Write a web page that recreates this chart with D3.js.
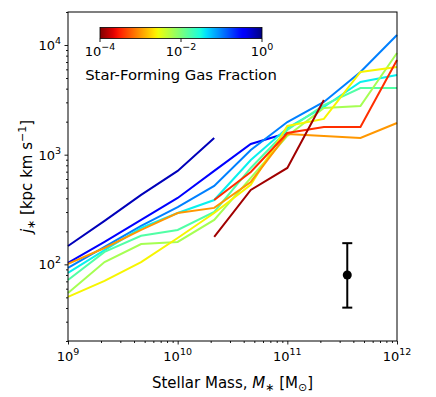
<!DOCTYPE html>
<html><head><meta charset="utf-8">
<script src="https://cdn.jsdelivr.net/npm/d3@7"></script>
<style>
body{margin:0;background:#fff;}
text{font-family:"DejaVu Sans",sans-serif;fill:#000;}
</style></head>
<body>
<svg id="c" width="436" height="397"></svg>
<script>
// ---- data ----
const massBins = [1e9, 2.154e9, 4.642e9, 1e10, 2.154e10, 4.642e10, 1e11, 2.154e11, 4.642e11, 1e12];
const gasFractions = [0.63, 0.33, 0.1, 0.036, 0.016, 0.0063, 0.0025, 0.001, 0.00036, 0.00013];
const jNavy   = [147, 249, 430, 711, 1419, null, null, null, null, null];
const jBlue   = [103, 160, 254, 403, 711, 1253, 1578, null, null, null];
const jDodger = [92.7, 144, 224, 333, 519, 1104, 1986, 3027, 5675, 12340];
const jCyan   = [83.5, 135, 215, 294, 386, 895, 1752, 2722, 4600, 5330];
const jAqua   = [72, 130, 182, 206, 301, 757, 1680, 2838, 4057, 4057];
const jYGreen = [54.8, 105, 153, 160, 254, 614, 1482, 2667, 2780, 8460];
const jYellow = [50.5, 70.6, 105, 174, 294, 530, 1828, 2117, 5675, 6305];
const jOrange = [101, 141, 206, 294, 327, 564, 1545, 1482, 1420, 1946];
const jRed    = [null, null, null, null, 386, 695, 1578, 1790, 1790, 7300];
const jDkRed  = [null, null, null, null, 178, 477, 757, 3155, null, null];
const seriesJ = [jNavy, jBlue, jDodger, jCyan, jAqua, jYGreen, jYellow, jOrange, jRed, jDkRed];
const errMass = 3.52e11, errJ = 80, errLo = 40.3, errHi = 156;
const xTicks = [1e9, 1e10, 1e11, 1e12], xExp = ["9","10","11","12"];
const yTicks = [1e2, 1e3, 1e4], yExp = ["2","3","4"];
const cbTicks = [1e-4, 1e-2, 1], cbExp = ["\u22124","\u22122","0"];

// ---- colormap (jet) ----
function pw(pts, x){
  for(let i=1;i<pts.length;i++){ if(x<=pts[i][0]){ const a=pts[i-1],b=pts[i]; return a[1]+(b[1]-a[1])*(x-a[0])/(b[0]-a[0]); } }
  return pts[pts.length-1][1];
}
function jet(x){
  const r=pw([[0,0],[0.35,0],[0.66,1],[0.89,1],[1,0.5]],x);
  const g=pw([[0,0],[0.125,0],[0.375,1],[0.64,1],[0.91,0],[1,0]],x);
  const b=pw([[0,0.5],[0.11,1],[0.34,1],[0.65,0],[1,0]],x);
  return d3.rgb(r*255,g*255,b*255).formatHex();
}
const cNorm = d3.scaleLog().domain([1e-4,1]).range([0,1]).clamp(true);
const colorOf = f => jet(1 - cNorm(f));

const svg = d3.select("#c");
const L=68,R=397,T=12,B=341;
const x = d3.scaleLog().domain([1e9,1e12]).range([L,R]);
const y = d3.scaleLog().domain([20,2e4]).range([B,T]);

// lines
const line = d3.line().defined(d=>d[1]!=null).x(d=>x(d[0])).y(d=>y(d[1]));
seriesJ.forEach((s,i)=>{
  svg.append("path").attr("d", line(massBins.map((m,k)=>[m,s[k]])))
    .attr("fill","none").attr("stroke",colorOf(gasFractions[i])).attr("stroke-width",2);
});

// error bar
const ex=x(errMass);
svg.append("line").attr("x1",ex).attr("x2",ex).attr("y1",y(errLo)).attr("y2",y(errHi)).attr("stroke","#000").attr("stroke-width",2);
[errLo,errHi].forEach(v=>svg.append("line").attr("x1",ex-5).attr("x2",ex+5).attr("y1",y(v)).attr("y2",y(v)).attr("stroke","#000").attr("stroke-width",2));
svg.append("circle").attr("cx",ex).attr("cy",y(errJ)).attr("r",4.5).attr("fill","#000");

// frame
svg.append("rect").attr("x",L).attr("y",T).attr("width",R-L).attr("height",B-T).attr("fill","none").attr("stroke","#000").attr("stroke-width",1);

// axes ticks
function minors(lo,hi){ const a=[]; for(let d=lo; d<hi; d*=10){ for(let k=2;k<10;k++){ a.push(d*k);} } return a; }
const gx = svg.append("g").attr("transform",`translate(0,${B})`);
gx.call(d3.axisBottom(x).tickValues(xTicks).tickSize(3.5).tickFormat(""));
gx.append("g").call(d3.axisBottom(x).tickValues(minors(1e9,1e12)).tickSize(2).tickFormat(""));
gx.selectAll(".domain").remove();
xTicks.forEach((t,i)=>{
  const tx=gx.append("text").attr("x",x(t)).attr("y",20).attr("text-anchor","middle").style("font-size","13px");
  tx.append("tspan").text("10");
  tx.append("tspan").attr("dy",-6).style("font-size","9.5px").text(xExp[i]);
});
const gy = svg.append("g").attr("transform",`translate(${L},0)`);
gy.call(d3.axisLeft(y).tickValues(yTicks).tickSize(3.5).tickFormat(""));
gy.append("g").call(d3.axisLeft(y).tickValues(minors(10,2e4).filter(v=>v>=20&&v<=2e4)).tickSize(2).tickFormat(""));
gy.selectAll(".domain").remove();
yTicks.forEach((t,i)=>{
  const ty=gy.append("text").attr("x",-7).attr("y",y(t)+5).attr("text-anchor","end").style("font-size","13px");
  ty.append("tspan").text("10");
  ty.append("tspan").attr("dy",-6).style("font-size","9.5px").text(yExp[i]);
});
svg.selectAll(".tick line").attr("stroke","#000").attr("stroke-width",0.9);

// axis labels
const xl = svg.append("text").attr("x",(L+R)/2).attr("y",388).attr("text-anchor","middle").style("font-size","15px");
xl.append("tspan").text("Stellar Mass, ");
xl.append("tspan").style("font-style","italic").text("M");
xl.append("tspan").attr("dy",3).style("font-size","11px").text("\u2217");
xl.append("tspan").attr("dy",-3).text(" [M");
xl.append("tspan").attr("dy",3).style("font-size","11px").text("\u2299");
xl.append("tspan").attr("dy",-3).text("]");

const yl = svg.append("text").attr("transform",`translate(32,${(T+B)/2}) rotate(-90)`).attr("text-anchor","middle").style("font-size","15px");
yl.append("tspan").style("font-style","italic").text("j");
yl.append("tspan").attr("dy",3).style("font-size","11px").text("\u2217");
yl.append("tspan").attr("dy",-3).text(" [kpc km s");
yl.append("tspan").attr("dy",-6).style("font-size","11px").text("\u22121");
yl.append("tspan").attr("dy",6).text("]");

// colorbar
const cb = d3.scaleLog().domain([1e-4,1]).range([100,262]);
const defs = svg.append("defs");
const grad = defs.append("linearGradient").attr("id","jetg").attr("x1","0%").attr("x2","100%").attr("y1","0%").attr("y2","0%");
d3.range(0,1.0001,0.02).forEach(p=>grad.append("stop").attr("offset",(p*100)+"%").attr("stop-color",jet(1-p)));
svg.append("rect").attr("x",100).attr("y",27.5).attr("width",162).attr("height",11).attr("fill","url(#jetg)").attr("stroke","#000").attr("stroke-width",0.8);
cbTicks.forEach((t,i)=>{
  svg.append("line").attr("x1",cb(t)).attr("x2",cb(t)).attr("y1",38.5).attr("y2",42).attr("stroke","#000").attr("stroke-width",0.9);
  const tt=svg.append("text").attr("x",cb(t)).attr("y",56).attr("text-anchor","middle").style("font-size","13px");
  tt.append("tspan").text("10");
  tt.append("tspan").attr("dy",-6).style("font-size","9.5px").text(cbExp[i]);
});
svg.append("text").attr("x",181).attr("y",80).attr("text-anchor","middle").style("font-size","14.8px").text("Star-Forming Gas Fraction");
</script>
</body></html>
